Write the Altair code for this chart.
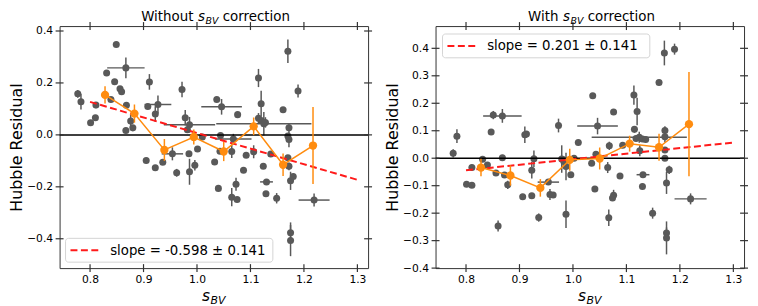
import altair as alt
import pandas as pd

# ---------------- data ----------------
# Left panel: without s_BV correction  (s_BV, residual, y-error, x-error)
L_s = [0.777, 0.783, 0.801, 0.810, 0.811, 0.831, 0.839, 0.849, 0.846, 0.856,
       0.859, 0.867, 0.868, 0.867, 0.876, 0.880, 0.911, 0.908, 0.927, 0.922,
       0.905, 0.922, 0.936, 0.954, 0.962, 0.972, 0.978, 0.986, 0.982, 0.985,
       0.986, 0.996, 1.001, 1.010, 1.033, 1.037, 1.046, 1.040, 1.044, 1.043,
       1.065, 1.068, 1.076, 1.065, 1.075, 1.073, 1.087, 1.092, 1.106, 1.115,
       1.120, 1.115, 1.120, 1.125, 1.128, 1.124, 1.130, 1.129, 1.138, 1.170,
       1.189, 1.161, 1.172, 1.170, 1.172, 1.170, 1.172, 1.175, 1.180, 1.149,
       1.219, 1.175, 1.175]
L_r = [0.158, 0.128, 0.047, 0.066, 0.115, 0.238, 0.136, 0.348, 0.205, 0.178,
       0.166, 0.258, 0.114, 0.017, 0.053, 0.027, 0.204, 0.109, 0.117, 0.080,
       -0.099, -0.127, -0.105, -0.073, -0.146, 0.175, 0.066, 0.039, 0.020, -0.073,
       -0.142, -0.117, -0.054, -0.008, -0.104, 0.136, 0.108, -0.206, -0.002, -0.063,
       -0.064, -0.016, 0.078, -0.240, -0.249, -0.190, -0.136, -0.078, -0.065, 0.219,
       0.120, 0.064, 0.055, 0.043, 0.048, -0.121, -0.181, -0.227, -0.074, 0.322,
       0.169, 0.097, 0.027, -0.004, -0.018, -0.088, -0.121, -0.177, -0.160, -0.244,
       -0.251, -0.377, -0.407]
L_ey = [0.015, 0.030, 0.010, 0.010, 0.012, 0.010, 0.010, 0.010, 0.010, 0.010,
        0.010, 0.040, 0.010, 0.010, 0.025, 0.010, 0.030, 0.010, 0.035, 0.030,
        0.010, 0.010, 0.010, 0.025, 0.015, 0.030, 0.030, 0.030, 0.010, 0.010,
        0.050, 0.020, 0.010, 0.010, 0.010, 0.010, 0.030, 0.010, 0.010, 0.010,
        0.025, 0.020, 0.010, 0.035, 0.010, 0.025, 0.010, 0.010, 0.025, 0.035,
        0.050, 0.020, 0.010, 0.045, 0.020, 0.010, 0.010, 0.010, 0.010, 0.045,
        0.025, 0.010, 0.015, 0.010, 0.030, 0.010, 0.015, 0.035, 0.010, 0.020,
        0.025, 0.040, 0.060]
L_ex = [0, 0, 0, 0, 0, 0, 0, 0, 0, 0,
        0, 0.035, 0, 0, 0, 0, 0, 0, 0.025, 0,
        0, 0, 0, 0.020, 0, 0, 0, 0.048, 0, 0,
        0, 0, 0, 0, 0, 0, 0.038, 0, 0, 0,
        0, 0.034, 0, 0, 0, 0, 0, 0, 0, 0,
        0, 0, 0, 0.089, 0, 0, 0.012, 0, 0, 0,
        0, 0, 0, 0, 0, 0, 0, 0, 0, 0,
        0.029, 0, 0]

# Right panel: with s_BV correction
R_s = [0.776, 0.783, 0.801, 0.811, 0.811, 0.831, 0.840, 0.847, 0.851, 0.856,
       0.860, 0.868, 0.868, 0.872, 0.878, 0.906, 0.910, 0.913, 0.923, 0.923,
       0.927, 0.936, 0.954, 0.957, 0.963, 0.973, 0.979, 0.983, 0.987, 0.987,
       0.996, 1.002, 1.010, 1.035, 1.037, 1.046, 1.041, 1.043, 1.065, 1.067,
       1.076, 1.074, 1.076, 1.068, 1.088, 1.093, 1.114, 1.120, 1.115, 1.118,
       1.124, 1.130, 1.136, 1.125, 1.131, 1.130, 1.149, 1.161, 1.171, 1.190,
       1.172, 1.172, 1.172, 1.172, 1.180, 1.175, 1.175, 1.175, 1.220]
R_r = [0.018, 0.080, -0.095, -0.098, -0.034, -0.004, -0.025, 0.095, 0.157, -0.054,
       -0.247, 0.154, 0.002, -0.061, -0.097, -0.140, 0.085, 0.088, -0.137, -0.044,
       -0.002, -0.216, -0.087, -0.132, -0.134, 0.119, -0.003, -0.012, -0.030, -0.204,
       -0.060, 0.000, 0.057, -0.018, 0.227, 0.117, -0.112, 0.014, -0.034, -0.217,
       -0.135, -0.145, 0.168, 0.045, -0.065, 0.047, 0.230, 0.170, 0.105, 0.072,
       0.076, 0.070, 0.068, 0.027, -0.060, -0.103, -0.200, 0.276, 0.383, 0.397,
       0.101, 0.078, 0.030, 0.000, -0.042, -0.090, -0.272, -0.290, -0.148]
R_ey = [0.015, 0.025, 0.010, 0.010, 0.010, 0.010, 0.010, 0.010, 0.015, 0.010,
        0.020, 0.025, 0.010, 0.010, 0.015, 0.010, 0.030, 0.010, 0.010, 0.030,
        0.030, 0.015, 0.010, 0.020, 0.010, 0.025, 0.050, 0.020, 0.050, 0.050,
        0.010, 0.010, 0.010, 0.010, 0.010, 0.030, 0.010, 0.010, 0.020, 0.030,
        0.020, 0.010, 0.010, 0.015, 0.010, 0.010, 0.035, 0.050, 0.010, 0.010,
        0.020, 0.010, 0.010, 0.020, 0.010, 0.010, 0.020, 0.010, 0.045, 0.020,
        0.015, 0.020, 0.010, 0.010, 0.015, 0.040, 0.020, 0.060, 0.020]
R_ex = [0, 0, 0, 0, 0, 0, 0, 0, 0, 0,
        0, 0.036, 0, 0, 0, 0, 0, 0, 0, 0,
        0, 0, 0.020, 0, 0, 0, 0, 0, 0, 0,
        0, 0, 0, 0, 0, 0.038, 0, 0, 0, 0,
        0, 0, 0, 0, 0, 0, 0, 0, 0, 0,
        0.089, 0, 0, 0, 0.012, 0, 0, 0, 0, 0,
        0, 0, 0, 0, 0, 0, 0, 0, 0.030]

# Binned means (orange)
BIN_S = [0.828, 0.883, 0.939, 0.994, 1.050, 1.106, 1.161, 1.217]
L_bin_r = [0.154, 0.082, -0.058, -0.008, -0.064, 0.033, -0.115, -0.041]
L_bin_e = [0.033, 0.035, 0.042, 0.029, 0.037, 0.034, 0.043, 0.148]
R_bin_r = [-0.034, -0.063, -0.108, -0.006, -0.001, 0.053, 0.040, 0.124]
R_bin_e = [0.032, 0.037, 0.032, 0.040, 0.040, 0.029, 0.049, 0.190]

# Linear fits (red dashed)
FIT_S = [0.80, 1.30]
L_fit_r = [0.127, -0.173]
R_fit_r = [-0.044, 0.057]

X_TICKS = [0.8, 0.9, 1.0, 1.1, 1.2, 1.3]
L_Y_TICKS = [-0.4, -0.2, 0.0, 0.2, 0.4]
R_Y_TICKS = [-0.4, -0.3, -0.2, -0.1, 0.0, 0.1, 0.2, 0.3, 0.4]
L_LABEL = ["slope = -0.598 ± 0.141"]
R_LABEL = ["slope = 0.201 ± 0.141"]
ZERO = [0.0]

X_DOMAIN = [0.743, 1.32]
L_Y_DOMAIN = [-0.513, 0.419]
R_Y_DOMAIN = [-0.4, 0.481]

# ---------------- style ----------------
FONT = "DejaVu Sans"
GRAY = "#595959"
ORANGE = "#ff8c0f"
RED = "#ff1a1a"
FRAME = "#333333"
W, H = 311, 244

EM = {"W": .989, "i": .278, "t": .392, "h": .634, "o": .612, "u": .634,
      "s": .521, "B": .686, "V": .684, "c": .550, "r": .411, "e": .615,
      "n": .634, " ": .318}


def tw(text, size):
    return sum(EM.get(ch, .6) for ch in text) * size


def rich_text(parts, cx, base_y):
    total = sum(tw(t, sz) + gap for t, sz, it, dy, gap in parts)
    x = cx - total / 2
    layers = []
    for t, sz, it, dy, gap in parts:
        layers.append(
            alt.Chart(pd.DataFrame({"t": [t]}))
            .mark_text(align="left", baseline="alphabetic", font=FONT,
                       fontSize=sz, fontStyle="italic" if it else "normal",
                       color="black")
            .encode(x=alt.value(x), y=alt.value(base_y + dy), text="t:N")
        )
        x += tw(t, sz) + gap
    return layers


def legend(label, x0, y0):
    """Manual legend box: x0,y0 = top-left corner inside plot (px)."""
    box = alt.Chart(pd.DataFrame({"t": label})).mark_rect(
        fill="white", stroke="#d0d0d0", strokeWidth=1, cornerRadius=3,
        opacity=0.9).encode(x=alt.value(x0), x2=alt.value(x0 + 209),
                            y=alt.value(y0), y2=alt.value(y0 + 24))
    sample = alt.Chart(pd.DataFrame({"t": label})).mark_rule(
        color=RED, strokeWidth=2, strokeDash=[7, 3.5]).encode(
        x=alt.value(x0 + 5), x2=alt.value(x0 + 35), y=alt.value(y0 + 12))
    txt = alt.Chart(pd.DataFrame({"t": label})).mark_text(
        align="left", baseline="middle", font=FONT, fontSize=13.4,
        color="black").encode(x=alt.value(x0 + 45), y=alt.value(y0 + 12.5),
                              text="t:N")
    return [box, sample, txt]


def panel(s, r, ey, ex, bin_r, bin_e, fit_r, label, ydom, yticks,
          word, leg_xy):
    xs = alt.Scale(domain=X_DOMAIN, nice=False, zero=False)
    ys = alt.Scale(domain=ydom, nice=False, zero=False)

    pts = pd.DataFrame({"s": s, "r": r, "ey": ey, "ex": ex})
    pts["rlo"] = pts["r"] - pts["ey"]
    pts["rhi"] = pts["r"] + pts["ey"]
    pts["slo"] = pts["s"] - pts["ex"]
    pts["shi"] = pts["s"] + pts["ex"]
    xerr = pts[pts["ex"] > 0]

    bins = pd.DataFrame({"s": BIN_S, "r": bin_r, "e": bin_e})
    bins["lo"] = bins["r"] - bins["e"]
    bins["hi"] = bins["r"] + bins["e"]

    fit = pd.DataFrame({"s": FIT_S, "r": fit_r})

    xa = alt.Axis(values=X_TICKS, format=".1f", title=None, ticks=False,
                  tickSize=0, labelPadding=6, domain=False, grid=False,
                  labelFontSize=10.8, labelFont=FONT, labelColor="black")
    ya = alt.Axis(values=yticks, format=".1f", title="Hubble Residual",
                  ticks=False, tickSize=0, labelPadding=7, domain=False,
                  grid=False, labelFontSize=10.8, labelFont=FONT,
                  labelColor="black", titleFontSize=16, titleFont=FONT,
                  titleFontWeight="normal", titleColor="black",
                  titlePadding=2)

    def X(f):
        return alt.X(f, scale=xs, axis=xa)

    def Y(f):
        return alt.Y(f, scale=ys, axis=ya)

    yerr_l = alt.Chart(pts).mark_rule(color=GRAY, strokeWidth=1.5).encode(
        x=X("s:Q"), y=Y("rlo:Q"), y2="rhi:Q")
    xerr_l = alt.Chart(xerr).mark_rule(color=GRAY, strokeWidth=1.5).encode(
        x=X("slo:Q"), x2="shi:Q", y=Y("r:Q"))
    dots = alt.Chart(pts).mark_circle(color=GRAY, size=50, opacity=1).encode(
        x=X("s:Q"), y=Y("r:Q"))
    zero = alt.Chart(pd.DataFrame({"r": ZERO})).mark_rule(
        color="black", strokeWidth=1.5).encode(y=Y("r:Q"))
    fit_l = alt.Chart(fit).mark_line(color=RED, strokeWidth=2,
                                     strokeDash=[7, 3.5]).encode(
        x=X("s:Q"), y=Y("r:Q"))
    berr = alt.Chart(bins).mark_rule(color=ORANGE, strokeWidth=1.5).encode(
        x=X("s:Q"), y=Y("lo:Q"), y2="hi:Q")
    bline = alt.Chart(bins).mark_line(color=ORANGE, strokeWidth=1.5).encode(
        x=X("s:Q"), y=Y("r:Q"))
    bdots = alt.Chart(bins).mark_circle(color=ORANGE, size=70, opacity=1).encode(
        x=X("s:Q"), y=Y("r:Q"))

    xt = pd.DataFrame({"s": X_TICKS})
    yt = pd.DataFrame({"r": yticks})
    tk = dict(color=FRAME, strokeWidth=1.2)
    t_top = alt.Chart(xt).mark_rule(**tk).encode(
        x=X("s:Q"), y=alt.value(-4), y2=alt.value(4))
    t_bot = alt.Chart(xt).mark_rule(**tk).encode(
        x=X("s:Q"), y=alt.value(H - 4), y2=alt.value(H + 4))
    t_left = alt.Chart(yt).mark_rule(**tk).encode(
        y=Y("r:Q"), x=alt.value(-4), x2=alt.value(4))
    t_right = alt.Chart(yt).mark_rule(**tk).encode(
        y=Y("r:Q"), x=alt.value(W - 4), x2=alt.value(W + 4))

    title_parts = [(word, 13.5, False, 0, tw(" ", 13.5)),
                   ("s", 13.5, True, 0, 0.5),
                   ("BV", 9.5, True, 3, tw(" ", 13.5)),
                   ("correction", 13.5, False, 0, 0)]
    xlab_parts = [("s", 15.5, True, 0, 0.5), ("BV", 11, True, 3, 0)]

    layers = [yerr_l, xerr_l, dots, zero, fit_l, berr, bline, bdots,
              t_top, t_bot, t_left, t_right]
    layers += legend(label, *leg_xy)
    layers += rich_text(title_parts, W / 2 + 2, -5)
    layers += rich_text(xlab_parts, W / 2, H + 33)
    return alt.layer(*layers).properties(width=W, height=H)


left = panel(L_s, L_r, L_ey, L_ex, L_bin_r, L_bin_e, L_fit_r, L_LABEL,
             L_Y_DOMAIN, L_Y_TICKS, "Without", (6, H - 30))
right = panel(R_s, R_r, R_ey, R_ex, R_bin_r, R_bin_e, R_fit_r, R_LABEL,
              R_Y_DOMAIN, R_Y_TICKS, "With", (7, 8))

chart = (
    alt.hconcat(left, right, spacing=10)
    .properties(padding={"left": 0, "top": 0, "right": 0, "bottom": 0})
    .configure(font=FONT)
    .configure_view(stroke=FRAME, strokeWidth=1)
)

chart.save("out.html", embed_options={"renderer": "svg", "actions": False})
